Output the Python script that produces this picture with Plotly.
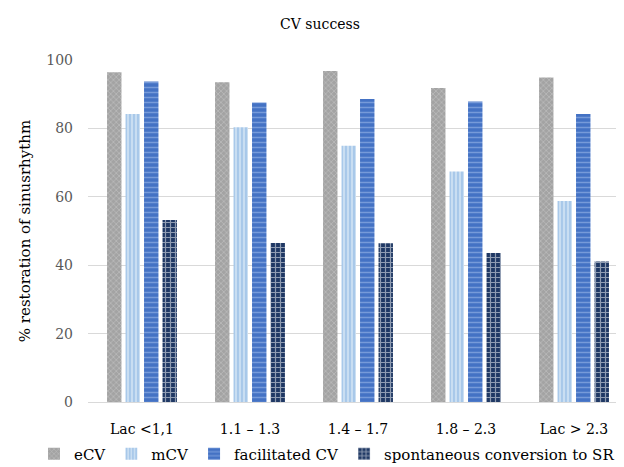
import plotly.graph_objects as go

categories = ["Lac <1,1", "1.1 – 1.3", "1.4 – 1.7", "1.8 – 2.3", "Lac > 2.3"]
ecv = [96.4, 93.5, 96.8, 91.8, 94.9]
mcv = [84.2, 80.3, 74.9, 67.4, 58.8]
facilitated = [93.7, 87.6, 88.6, 87.9, 84.2]
spontaneous = [53.2, 46.5, 46.4, 43.6, 41.1]

series_names = ["eCV", "mCV", "facilitated CV", "spontaneous conversion to SR"]
series_values = [ecv, mcv, facilitated, spontaneous]
styles = [
    dict(color="#a3a3a3", pattern=dict(shape="x", fgcolor="#dcdcdc", size=4, solidity=0.3)),
    dict(color="#c9def2", pattern=dict(shape="|", fgcolor="#6b9fd8", size=4, solidity=0.35)),
    dict(color="#4472c4", pattern=dict(shape="-", fgcolor="#a8c2ee", size=5, solidity=0.3)),
    dict(color="#1f3864", pattern=dict(shape="+", fgcolor="#ffffff", size=5, solidity=0.42)),
]

FONT = "DejaVu Serif, Liberation Serif, serif"

fig = go.Figure()
for name, vals, st in zip(series_names, series_values, styles):
    fig.add_trace(go.Bar(
        x=categories, y=vals, name=name,
        marker=dict(color=st["color"], line=dict(width=0), pattern=st["pattern"]),
    ))

fig.update_layout(
    width=624, height=467,
    margin=dict(l=80, r=4, t=52, b=65),
    paper_bgcolor="white", plot_bgcolor="white",
    barmode="group", bargap=0.315, bargroupgap=0.22,
    font=dict(family=FONT, size=14, color="#404040"),
    title=dict(text="CV success", x=0.5, xanchor="center", y=0.965, yanchor="middle",
               font=dict(family=FONT, size=14, color="#000000")),
    xaxis=dict(showgrid=False, showline=True, linecolor="#d9d9d9", linewidth=1,
               ticks="", ticklabelstandoff=14,
               tickfont=dict(family=FONT, size=14, color="#000000")),
    yaxis=dict(range=[0, 100], dtick=20, showgrid=True, gridcolor="#d9d9d9", gridwidth=1,
               zeroline=False, ticks="", ticklabelstandoff=14,
               tickfont=dict(family=FONT, size=14, color="#595959"),
               title=dict(text="% restoration of sinusrhythm", standoff=12,
                          font=dict(family=FONT, size=15, color="#000000"))),
    legend=dict(orientation="h", x=-0.1, xanchor="left", y=-0.152, yanchor="middle",
                font=dict(family=FONT, size=15, color="#000000"),
                itemwidth=30, tracegroupgap=0),
)

fig.write_html("out.html")
